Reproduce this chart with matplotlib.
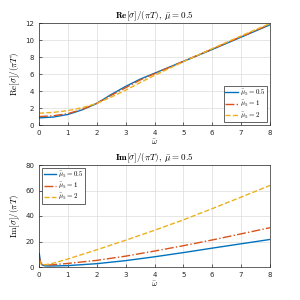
import matplotlib
matplotlib.use("Agg")
import matplotlib.pyplot as plt

plt.rcParams['mathtext.fontset'] = 'cm'
plt.rcParams['font.family'] = 'DejaVu Sans'

# Re[sigma]/(pi T)
w_re = [0, 0.5, 1, 1.5, 2, 2.5, 3, 3.5, 4, 5, 6, 7, 8]
re_05 = [0.85, 0.95, 1.25, 1.8, 2.55, 3.6, 4.55, 5.4, 6.1, 7.5, 8.9, 10.35, 11.8]
re_1 = [1.0, 1.1, 1.35, 1.85, 2.55, 3.5, 4.4, 5.3, 6.05, 7.5, 8.95, 10.4, 11.85]
re_2 = [1.4, 1.5, 1.7, 2.05, 2.55, 3.3, 4.1, 5.0, 5.85, 7.45, 9.0, 10.5, 11.95]

# Im[sigma]/(pi T)
w_im = [0.01, 0.05, 0.1, 0.2, 0.3, 0.5, 1, 2, 3, 4, 5, 6, 7, 8]
im_05 = [10.5, 4.0, 1.8, 0.9, 0.8, 0.8, 1.1, 2.6, 5.0, 8.0, 11.3, 14.8, 18.2, 21.6]
im_1 = [8.0, 3.5, 2.0, 1.5, 1.5, 1.8, 2.8, 5.2, 8.5, 12.5, 16.7, 21.2, 26.0, 30.8]
im_2 = [5.5, 2.8, 2.0, 1.8, 2.1, 3.0, 6.3, 13.5, 21.0, 28.8, 37.0, 45.8, 54.8, 64.0]

labels = [r'$\bar{\mu}_5=0.5$', r'$\bar{\mu}_5=1$', r'$\bar{\mu}_5=2$']
colors = ['#0072BD', '#D95319', '#EDB120']
styles = ['-', '-.', '--']

fig = plt.figure(figsize=(3, 3), dpi=100)
ax1 = fig.add_axes([0.13, 0.583, 0.77, 0.34])
ax2 = fig.add_axes([0.13, 0.11, 0.77, 0.34])

legend_kw = dict(fontsize=5, frameon=True, fancybox=False, edgecolor='#262626',
                 framealpha=1, handlelength=1.8, borderpad=0.25,
                 labelspacing=0.15, handletextpad=0.3, borderaxespad=0.4)

for ax in (ax1, ax2):
    ax.tick_params(direction='in', labelsize=5, length=2, width=0.5, colors='#262626')
    for s in ax.spines.values():
        s.set_linewidth(0.5)
        s.set_color('#262626')
    ax.grid(True, color='#dcdcdc', linewidth=0.5)
    ax.set_axisbelow(True)
    ax.set_xlim(0, 8)
    ax.set_xlabel(r'$\bar{\omega}$', fontsize=6, labelpad=1)

for y, lab, c, ls in zip([re_05, re_1, re_2], labels, colors, styles):
    ax1.plot(w_re, y, ls, color=c, lw=1.0, label=lab)
ax1.set_ylim(0, 12)
ax1.set_yticks(range(0, 13, 2))
ax1.set_ylabel(r'$\mathrm{Re}[\sigma]/(\pi T)$', fontsize=6.5, labelpad=2)
ax1.set_title(r'$\mathbf{Re}[\sigma]/(\pi T),\ \bar{\mu}=0.5$', fontsize=6.5, pad=3)
ax1.legend(loc='lower right', **legend_kw).get_frame().set_linewidth(0.5)

for y, lab, c, ls in zip([im_05, im_1, im_2], labels, colors, styles):
    ax2.plot(w_im, y, ls, color=c, lw=1.0, label=lab)
ax2.set_ylim(0, 80)
ax2.set_yticks(range(0, 81, 20))
ax2.set_ylabel(r'$\mathrm{Im}[\sigma]/(\pi T)$', fontsize=6.5, labelpad=2)
ax2.set_title(r'$\mathbf{Im}[\sigma]/(\pi T),\ \bar{\mu}=0.5$', fontsize=6.5, pad=3)
ax2.legend(loc='upper left', **legend_kw).get_frame().set_linewidth(0.5)

fig.savefig('out.png', dpi=100)
